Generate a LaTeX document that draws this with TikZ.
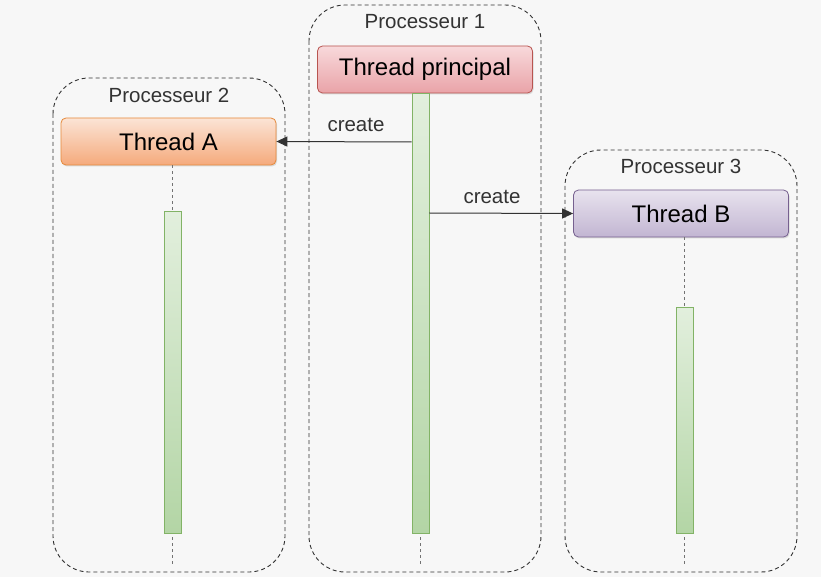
\documentclass[tikz,border=0pt]{standalone}
\usepackage{fontspec}
\setmainfont{Liberation Sans}
\usetikzlibrary{shadows,arrows.meta}
\definecolor{bgc}{HTML}{F7F7F7}
\definecolor{procline}{HTML}{333333}
\definecolor{redtop}{HTML}{F8D9DB}
\definecolor{redbot}{HTML}{E9A3A8}
\definecolor{redline}{HTML}{B85450}
\definecolor{orgtop}{HTML}{FBE4D6}
\definecolor{orgbot}{HTML}{F5AA7C}
\definecolor{orgline}{HTML}{E6893A}
\definecolor{purtop}{HTML}{E8E3EE}
\definecolor{purbot}{HTML}{C2B5D2}
\definecolor{purline}{HTML}{76608F}
\definecolor{grntop}{HTML}{E2EFDD}
\definecolor{grnbot}{HTML}{B3D5A5}
\definecolor{grnline}{HTML}{82B366}
\tikzset{
  procbox/.style={draw=procline, dashed, dash pattern=on 4pt off 3pt, rounded corners=36pt, line width=0.9pt},
  proclabel/.style={font=\fontsize{20.5}{24}\selectfont, text=black!80, anchor=center},
  threadbox/.style={rounded corners=5pt, line width=0.8pt, minimum width=215pt, minimum height=47pt, font=\fontsize{24}{28}\selectfont, drop shadow={opacity=0.25, shadow xshift=1pt, shadow yshift=-1.5pt}},
  redbox/.style={threadbox, draw=redline, top color=redtop, bottom color=redbot},
  orgbox/.style={threadbox, draw=orgline, top color=orgtop, bottom color=orgbot},
  purbox/.style={threadbox, draw=purline, top color=purtop, bottom color=purbot},
  actbar/.style={draw=grnline, line width=0.8pt, top color=grntop, bottom color=grnbot, drop shadow={opacity=0.2, shadow xshift=1pt, shadow yshift=-1pt}},
  lifeline/.style={draw=black!55, dashed, dash pattern=on 3pt off 3pt, line width=0.7pt},
  msg/.style={draw=black!80, line width=1pt, -{Triangle[length=11pt,width=10pt]}},
  msglabel/.style={font=\fontsize{20.5}{24}\selectfont, text=black!80}
}
\begin{document}
\begin{tikzpicture}[x=1pt,y=-1pt]
\fill[bgc] (0,0) rectangle (821,577);
\useasboundingbox (0,0) rectangle (821,577);
% processor boxes
\draw[procbox] (309,5) rectangle (541,572);
\draw[procbox] (53,78) rectangle (285,572);
\draw[procbox] (565,150) rectangle (797,572);
\node[proclabel] (p1) at (425,22) {Processeur 1};
\node[proclabel] (p2) at (169,95) {Processeur 2};
\node[proclabel] (p3) at (681,166) {Processeur 3};
% lifelines
\coordinate (e1) at (420.5,566);
\coordinate (e2) at (172.5,566);
\coordinate (e3) at (684.5,566);
% thread boxes
\node[redbox] (tp) at (425,69.5) {Thread principal};
\node[orgbox] (ta) at (168.5,141.5) {Thread A};
\node[purbox] (tb) at (681,213.5) {Thread B};
\draw[lifeline] (tp.south -| e1) -- (e1);
\draw[lifeline] (ta.south -| e2) -- (e2);
\draw[lifeline] (tb.south -| e3) -- (e3);
% activation bars
\node[actbar, minimum width=17pt, minimum height=440pt, inner sep=0pt, anchor=north] (b1) at (420.5,93) {};
\node[actbar, minimum width=17pt, minimum height=322pt, inner sep=0pt, anchor=north] (b2) at (172.5,211) {};
\node[actbar, minimum width=17pt, minimum height=226pt, inner sep=0pt, anchor=north] (b3) at (684.5,307) {};
% messages
\coordinate (m1) at (412,142);
\coordinate (m2) at (429,213);
\draw[msg] (b1.west |- m1) -- (ta.east);
\draw[msg] (b1.east |- m2) -- (tb.west);
\node[msglabel] (c1) at (356,125) {create};
\node[msglabel] (c2) at (492,197) {create};
\end{tikzpicture}
\end{document}
